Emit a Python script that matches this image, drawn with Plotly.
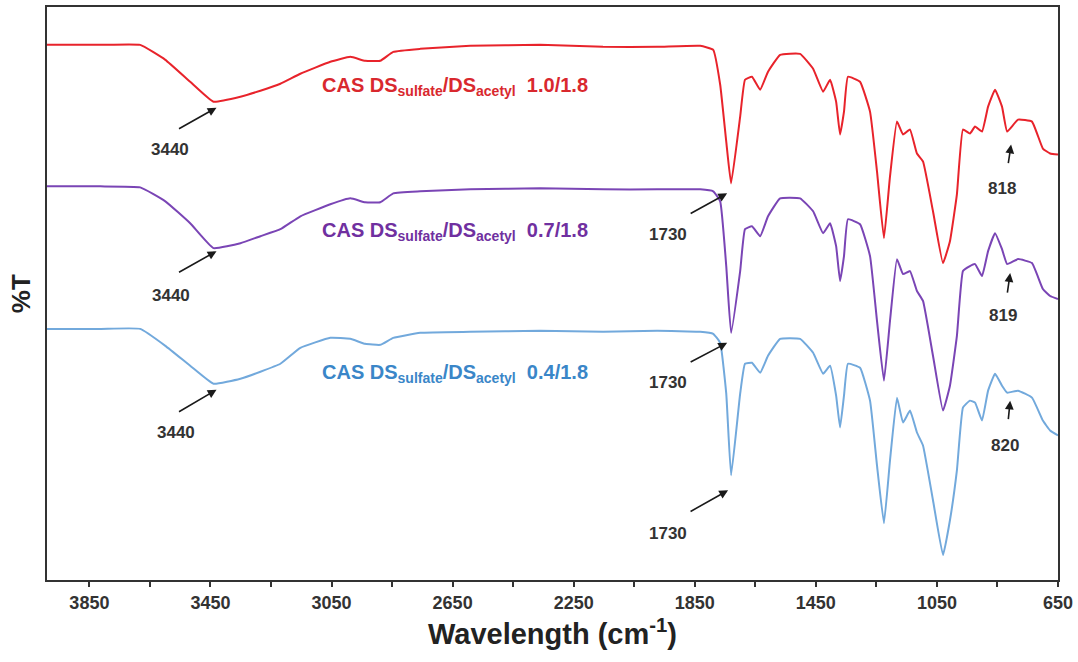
import plotly.graph_objects as go

# Wavenumbers (cm-1)
wavenumber = [3990, 3814, 3682, 3599, 3517, 3440, 3351, 3285, 3219, 3153, 3054, 2988, 2939, 2889,
              2846, 2757, 2592, 2361, 2153, 1974, 1832, 1789, 1766, 1746, 1730, 1700, 1684, 1661,
              1634, 1608, 1568, 1502, 1459, 1426, 1403, 1383, 1370, 1357, 1344, 1304, 1271, 1248,
              1225, 1205, 1182, 1162, 1139, 1116, 1096, 1063, 1030, 1007, 984, 964, 941, 924, 901,
              881, 858, 835, 818, 782, 736, 700, 676, 650]

# %T (offset spectra, arbitrary units)
t_10 = [107.4, 107.4, 107.4, 104.4, 100, 96, 97, 98.2, 99.6, 101.6, 104, 105, 104.2, 104.2,
        106, 106.6, 107.2, 107.4, 107, 107, 107.2, 106.4, 99.4, 88, 79.6, 93, 100.4, 101,
        98.4, 102, 105.4, 105.6, 102.6, 98, 100.4, 96, 89.4, 94, 101, 100, 94, 82,
        68.6, 81, 92, 89.4, 90.4, 85.6, 84, 74, 63.6, 68, 77.4, 90.4, 89.6, 91, 90,
        95, 98.4, 95, 90, 92.4, 92, 86.6, 85.6, 85.4]
t_07 = [79, 79, 78.8, 76, 71.6, 66.6, 67.6, 69, 70.4, 73, 75.4, 76.6, 75.8, 75.8,
        77.6, 78, 78.4, 78.6, 78.4, 78.4, 78.4, 78, 76, 63, 49.6, 62, 70.4, 71,
        69, 73, 76.6, 76.6, 74, 69.6, 71.6, 67, 60, 65, 72.4, 71.4, 65, 52,
        40, 52, 64.4, 61.4, 62, 58, 56, 45, 34, 39, 49, 62, 63, 63.4, 61,
        66, 69.6, 66.4, 63.4, 64.4, 63.6, 58.4, 57, 56.4]
t_04 = [50.4, 50.4, 50.4, 47, 43, 39.4, 40.4, 41.8, 43.4, 46.6, 48.6, 48.4, 47.4, 47.2,
        48.6, 49.6, 49.8, 50, 49.8, 50, 49.8, 49.4, 47.6, 37.4, 21, 37.4, 43.4, 43.6,
        41.6, 45, 48.4, 48.4, 45.6, 41.4, 43, 37, 30.6, 37, 43.4, 42.6, 36, 23,
        11.4, 24, 36.6, 31.6, 34, 29.6, 27, 16, 5, 12, 22, 34.6, 36, 35.6, 32,
        38, 41.4, 39, 37.6, 38, 36.6, 32, 30, 29]

series = [
    ("CAS DS<sub>sulfate</sub>/DS<sub>acetyl</sub>  1.0/1.8", t_10, "#E8232B", "#D9282E"),
    ("CAS DS<sub>sulfate</sub>/DS<sub>acetyl</sub>  0.7/1.8", t_07, "#7A45B5", "#7030A0"),
    ("CAS DS<sub>sulfate</sub>/DS<sub>acetyl</sub>  0.4/1.8", t_04, "#72A9DC", "#3A86C8"),
]
label_y = [99, 70, 41.4]

tick_vals = [3850, 3450, 3050, 2650, 2250, 1850, 1450, 1050, 650]
minor_vals = [3650, 3250, 2850, 2450, 2050, 1650, 1250, 850]

fig = go.Figure()
for name, ys, col, _ in series:
    fig.add_trace(go.Scatter(x=wavenumber, y=ys, mode="lines", name=name,
                             line=dict(color=col, width=2, shape="spline", smoothing=0.35),
                             showlegend=False))

font_fam = "Liberation Sans, Arial, sans-serif"
ann = []
for (name, ys, col, tcol), ly in zip(series, label_y):
    ann.append(dict(x=3087, y=ly, text=name, showarrow=False, xanchor="left", yanchor="middle",
                    font=dict(family=font_fam, size=20, color=tcol, weight="bold")))

# peak labels: (text, head_x, head_y, ax, ay, text_x, text_y)
peaks = [
    ("3440", 3430, 94.8, -39, 22, 3583, 86.4),
    ("3440", 3430, 66.0, -39, 22, 3579, 57.0),
    ("3440", 3430, 38.2, -39, 23, 3563, 29.6),
    ("1730", 1743, 77.6, -38, 21, 1938, 69.4),
    ("1730", 1743, 47.6, -38, 20, 1938, 39.6),
    ("1730", 1740, 18.0, -39, 22, 1938, 9.4),
    ("818", 805, 87.4, -3, 20, 835, 78.6),
    ("819", 808, 61.6, -3, 21, 832, 53.0),
    ("820", 808, 36.0, -2, 20, 825, 27.0),
]
for txt, hx, hy, ax, ay, tx, ty in peaks:
    ann.append(dict(x=hx, y=hy, ax=ax, ay=ay, text="", showarrow=True, arrowhead=2,
                    arrowsize=1.1, arrowwidth=1.6, arrowcolor="#1a1a1a"))
    ann.append(dict(x=tx, y=ty, text=txt, showarrow=False,
                    font=dict(family=font_fam, size=17, color="#333333", weight="bold")))

ann.append(dict(xref="paper", yref="paper", x=-0.026, y=0.5, text="%T", showarrow=False,
                textangle=-90, xanchor="center", yanchor="middle",
                font=dict(family=font_fam, size=26, color="#222222", weight="bold")))

fig.update_layout(
    width=1078, height=662,
    margin=dict(l=47, r=20, t=5, b=82),
    paper_bgcolor="white", plot_bgcolor="white",
    annotations=ann,
    xaxis=dict(range=[3990, 650], tickvals=tick_vals, ticks="outside", ticklen=5, tickwidth=2,
               tickcolor="#333333", showline=True, linecolor="#333333", linewidth=2, mirror=True,
               showgrid=False, zeroline=False,
               minor=dict(tickvals=minor_vals, ticks="outside", ticklen=5, tickwidth=2,
                          tickcolor="#333333"),
               tickfont=dict(family=font_fam, size=18, color="#333333", weight="bold"),
               title=dict(text="Wavelength (cm<sup>-1</sup>)", standoff=12,
                          font=dict(family=font_fam, size=29, color="#222222", weight="bold"))),
    yaxis=dict(range=[0, 115], showticklabels=False, ticks="", showline=True, linecolor="#333333",
               linewidth=2, mirror=True, showgrid=False, zeroline=False),
)

fig.write_html("out.html")
